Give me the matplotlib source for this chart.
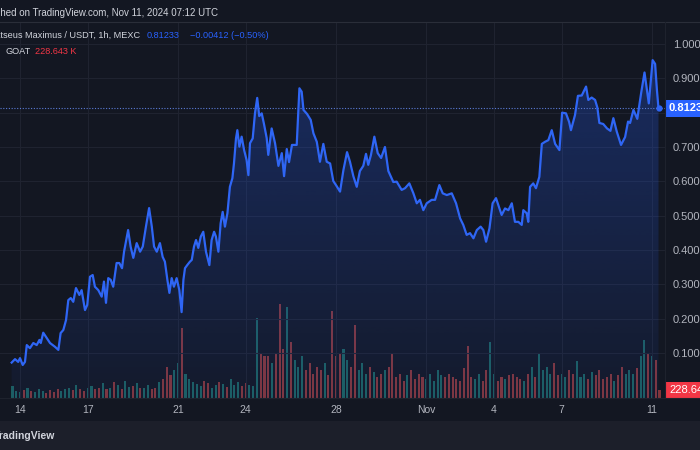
import numpy as np
import matplotlib
matplotlib.use('Agg')
import matplotlib.pyplot as plt
from matplotlib.patches import PathPatch

plt.rcParams['font.family'] = ['Liberation Sans', 'DejaVu Sans']

BG = '#131722'
TXT = '#b2b5be'
BLUE = '#2962ff'

# time in days since Oct 14 2024 00:00 UTC, price in USDT
t_price = [
    -0.37, -0.22, -0.08, 0.00, 0.12, 0.22, 0.30, 0.44, 0.59, 0.74,
    0.86, 0.92, 1.03, 1.18, 1.33, 1.55, 1.70, 1.80, 1.92, 2.04,
    2.14, 2.25, 2.36, 2.48, 2.63, 2.73, 2.88, 2.98, 3.10, 3.22,
    3.32, 3.47, 3.62, 3.72, 3.81, 3.91, 4.02, 4.13, 4.28, 4.40,
    4.52, 4.61, 4.79, 4.90, 5.02, 5.17, 5.32, 5.44, 5.58, 5.72,
    5.84, 5.94, 6.06, 6.20, 6.32, 6.42, 6.53, 6.62, 6.72, 6.82,
    6.94, 7.06, 7.16, 7.24, 7.31, 7.41, 7.53, 7.61, 7.71, 7.80,
    7.90, 8.01, 8.12, 8.24, 8.39, 8.49, 8.60, 8.68, 8.79, 8.89,
    8.98, 9.08, 9.19, 9.30, 9.41, 9.48, 9.57, 9.63, 9.72, 9.82,
    9.93, 10.04, 10.12, 10.19, 10.31, 10.41, 10.51, 10.60, 10.71, 10.81,
    10.93, 11.00, 11.15, 11.30, 11.45, 11.60, 11.70, 11.82, 11.92, 12.05,
    12.26, 12.38, 12.48, 12.56, 12.72, 12.88, 13.00, 13.15, 13.29, 13.44,
    13.59, 13.74, 13.88, 14.03, 14.18, 14.33, 14.49, 14.62, 14.77, 14.92,
    15.06, 15.21, 15.33, 15.43, 15.55, 15.70, 15.85, 16.00, 16.17, 16.32,
    16.54, 16.69, 16.91, 17.06, 17.25, 17.43, 17.58, 17.72, 17.87, 18.02,
    18.24, 18.39, 18.58, 18.73, 18.91, 19.13, 19.32, 19.50, 19.64, 19.79,
    19.94, 20.09, 20.24, 20.41, 20.53, 20.65, 20.80, 20.94, 21.09, 21.19,
    21.34, 21.49, 21.64, 21.79, 21.93, 22.08, 22.23, 22.30, 22.45, 22.52,
    22.60, 22.74, 22.86, 23.01, 23.12, 23.26, 23.41, 23.56, 23.71, 23.90,
    24.02, 24.19, 24.33, 24.41, 24.59, 24.72, 24.89, 25.08, 25.18, 25.33,
    25.48, 25.58, 25.67, 25.84, 26.01, 26.16, 26.29, 26.44, 26.63, 26.81,
    26.94, 27.03, 27.18, 27.35, 27.52, 27.67, 27.86, 28.03, 28.14, 28.22,
    28.29]

price = [
    0.072, 0.082, 0.074, 0.085, 0.065, 0.074, 0.123, 0.114, 0.129, 0.123,
    0.138, 0.129, 0.159, 0.144, 0.129, 0.118, 0.109, 0.158, 0.167, 0.196,
    0.254, 0.260, 0.249, 0.289, 0.269, 0.283, 0.225, 0.240, 0.322, 0.327,
    0.293, 0.283, 0.264, 0.308, 0.246, 0.318, 0.313, 0.293, 0.362, 0.362,
    0.347, 0.395, 0.458, 0.410, 0.377, 0.420, 0.395, 0.410, 0.468, 0.522,
    0.468, 0.410, 0.395, 0.420, 0.380, 0.366, 0.313, 0.275, 0.318, 0.293,
    0.318, 0.283, 0.219, 0.313, 0.347, 0.356, 0.366, 0.371, 0.410, 0.429,
    0.406, 0.439, 0.453, 0.395, 0.356, 0.429, 0.453, 0.439, 0.395, 0.478,
    0.511, 0.468, 0.507, 0.584, 0.609, 0.652, 0.725, 0.749, 0.701, 0.730,
    0.691, 0.662, 0.618, 0.711, 0.725, 0.798, 0.843, 0.790, 0.798, 0.767,
    0.726, 0.677, 0.754, 0.711, 0.645, 0.682, 0.615, 0.694, 0.656, 0.706,
    0.706, 0.871, 0.861, 0.808, 0.796, 0.779, 0.740, 0.715, 0.657, 0.709,
    0.657, 0.652, 0.601, 0.586, 0.570, 0.633, 0.685, 0.657, 0.615, 0.584,
    0.630, 0.645, 0.680, 0.648, 0.677, 0.730, 0.682, 0.668, 0.700, 0.630,
    0.598, 0.599, 0.575, 0.580, 0.594, 0.565, 0.536, 0.546, 0.516, 0.536,
    0.546, 0.546, 0.589, 0.565, 0.560, 0.565, 0.536, 0.492, 0.473, 0.444,
    0.449, 0.434, 0.458, 0.468, 0.458, 0.424, 0.463, 0.536, 0.551, 0.531,
    0.502, 0.521, 0.516, 0.536, 0.482, 0.482, 0.473, 0.516, 0.507, 0.482,
    0.584, 0.594, 0.580, 0.613, 0.709, 0.715, 0.720, 0.749, 0.709, 0.691,
    0.800, 0.798, 0.773, 0.749, 0.793, 0.849, 0.850, 0.876, 0.837, 0.844,
    0.837, 0.815, 0.770, 0.767, 0.754, 0.747, 0.784, 0.745, 0.706, 0.729,
    0.774, 0.770, 0.808, 0.782, 0.857, 0.917, 0.827, 0.953, 0.942, 0.866,
    0.81233]

# volume in thousands GOAT, one bar per 4 hours starting Oct 13 16:00
vol_start = -1 / 3
vol_step = 1 / 6
volume = [
    350, 200,
    180, 220, 300, 200, 160, 250,
    200, 150, 230, 180, 260, 210,
    250, 300, 220, 380, 260, 200,
    280, 350, 250, 300, 420, 260,
    300, 450, 380, 260, 500, 320,
    350, 420, 300, 280, 380, 250,
    300, 450, 550, 900, 650, 800,
    1000, 2000, 700, 550, 450, 400,
    350, 500, 420, 300, 380, 450,
    400, 320, 550, 380, 450, 350,
    420, 380, 350, 2300, 1300, 1200,
    1200, 1000, 1300, 2700, 1400, 2600,
    1600, 1100, 900, 1200, 800, 1000,
    700, 900, 800, 1000, 650, 2500,
    1200, 1300, 1400, 1100, 900, 2100,
    800, 1000, 700, 900, 750, 600,
    700, 800, 900, 1250, 600, 700,
    500, 650, 800, 550, 700, 600,
    550, 700, 500, 800, 650, 600,
    700, 600, 550, 500, 850, 1500,
    600, 550, 700, 500, 800, 1600,
    700, 500, 600, 550, 650, 700,
    600, 550, 500, 700, 900, 600,
    1300, 800, 900, 700, 1000, 650,
    700, 600, 800, 700, 1050, 600,
    700, 550, 750, 650, 800, 550,
    600, 700, 500, 650, 900, 700,
    800, 700, 850, 1200, 1650, 1300,
    1200, 1100, 228.643]

tick_days = [0, 3, 7, 10, 14, 18, 21, 24, 28]
tick_labels = ['14', '17', '21', '24', '28', 'Nov', '4', '7', '11']
price_levels = [0.1, 0.2, 0.3, 0.4, 0.5, 0.6, 0.7, 0.8, 0.9, 1.0]

last_price = 0.81233
last_volume = 228.643

# Figure geometry (pixels)
W, H = 700, 450
top, bottom, right = 22, 398, 665


def fx(x):
    return x / W


def fy(y):
    return 1 - y / H


fig = plt.figure(figsize=(7, 4.5), dpi=100)
fig.patch.set_facecolor(BG)

rect = [0, fy(bottom), fx(right), (bottom - top) / H]
ax_vol = fig.add_axes(rect)
ax_vol.set_facecolor(BG)
ax = fig.add_axes(rect, sharex=ax_vol)
ax.patch.set_alpha(0)

xlim = (-20 / 22.57, (right - 20) / 22.57)
ylim = (1 - (bottom - 44) / 343.3, 1 + (44 - top) / 343.3)

# Volume bars
t_vol = vol_start + np.arange(len(volume)) * vol_step
p_now = np.interp(t_vol, t_price, price)
p_prev = np.interp(t_vol - vol_step, t_price, price)
colors = np.where(p_now >= p_prev, '#26a69a', '#ef5350')
ax_vol.bar(t_vol, volume, width=vol_step * 0.55, color=colors, alpha=0.5, linewidth=0)
ax_vol.set_ylim(0, (bottom - top) * 28.6)
ax_vol.axis('off')

# Area with gradient
fill = ax.fill_between(t_price, price, ylim[0], facecolor='none', edgecolor='none')
clip = PathPatch(fill.get_paths()[0], transform=ax.transData, facecolor='none', edgecolor='none')
ax.add_patch(clip)
n = 256
grad = np.zeros((n, 1, 4))
grad[..., 0] = 41 / 255
grad[..., 1] = 98 / 255
grad[..., 2] = 1.0
grad[:, 0, 3] = np.linspace(0.28, 0.05, n)
im = ax.imshow(grad, extent=[xlim[0], xlim[1], ylim[0], max(price)],
               aspect='auto', origin='upper', zorder=1)
im.set_clip_path(clip)

ax.plot(t_price, price, color='#2f66f5', lw=1.6, zorder=3, solid_joinstyle='round')
ax.plot(t_price[-1], price[-1], 'o', color='#2f66f5', ms=3.5, zorder=4)
ax.axhline(last_price, color='#5b7bd6', lw=0.8, ls=(0, (1, 1.5)), zorder=2)

ax.set_xlim(*xlim)
ax.set_ylim(*ylim)

# Grid and ticks
ax.set_axisbelow(True)
ax.set_xticks(tick_days)
ax.set_xticklabels(tick_labels)
ax.yaxis.tick_right()
ax.set_yticks(price_levels)
ax.set_yticklabels(['' if abs(v - 0.8) < 1e-6 else '%.3f' % v for v in price_levels])
ax.grid(True, color='#1f2330', lw=0.8)
ax.tick_params(axis='x', length=0, pad=5, colors=TXT, labelsize=7.5)
ax.tick_params(axis='y', length=0, pad=5.8, colors=TXT, labelsize=8)
for s in ax.spines.values():
    s.set_visible(False)

# Last value labels on the scale
ax.text(1.005, last_price, '0.81233', transform=ax.get_yaxis_transform(),
        color='white', fontsize=8, fontweight='bold', va='center', ha='left',
        bbox=dict(boxstyle='square,pad=0.3', fc=BLUE, ec='none'), clip_on=False, zorder=5)
ax_vol.text(1.006, last_volume, '228.643K', transform=ax_vol.get_yaxis_transform(),
            color='white', fontsize=8, va='center', ha='left',
            bbox=dict(boxstyle='square,pad=0.3', fc='#f23645', ec='none'), clip_on=False)

# Frame lines
fig.add_artist(plt.Line2D([0, 1], [fy(top), fy(top)], color='#2a2e39', lw=0.8))
fig.add_artist(plt.Line2D([fx(right), fx(right)], [fy(bottom), fy(top)], color='#1e222d', lw=0.8))
fig.add_artist(plt.Line2D([0, 1], [fy(bottom), fy(bottom)], color='#1e222d', lw=0.8))

# Bottom bar
fig.add_artist(plt.Rectangle((0, 0), 1, fy(421), color='#1c1f2a', lw=0))
fig.text(fx(-6), fy(436), 'TradingView', color='#d1d4dc', fontsize=7.5,
         fontweight='bold', va='center', ha='left')

# Header
fig.text(fx(-26), fy(13), 'Published on TradingView.com, Nov 11, 2024 07:12 UTC',
         color='#d1d4dc', fontsize=7.0, va='center', ha='left')
fig.text(fx(-17), fy(35), 'Goatseus Maximus / USDT, 1h, MEXC',
         color='#d1d4dc', fontsize=6.6, va='center', ha='left')
fig.text(fx(147), fy(35), '0.81233', color=BLUE, fontsize=6.6, va='center', ha='left')
fig.text(fx(190), fy(35), '\u22120.00412 (\u22120.50%)', color=BLUE, fontsize=6.6,
         va='center', ha='left')
fig.text(fx(5), fy(52), 'GOAT', color='#d1d4dc', fontsize=6.6, va='center', ha='left')
fig.text(fx(35), fy(52), '228.643 K', color='#f23645', fontsize=6.6, va='center', ha='left')

fig.savefig('out.png', dpi=100, facecolor=BG)
